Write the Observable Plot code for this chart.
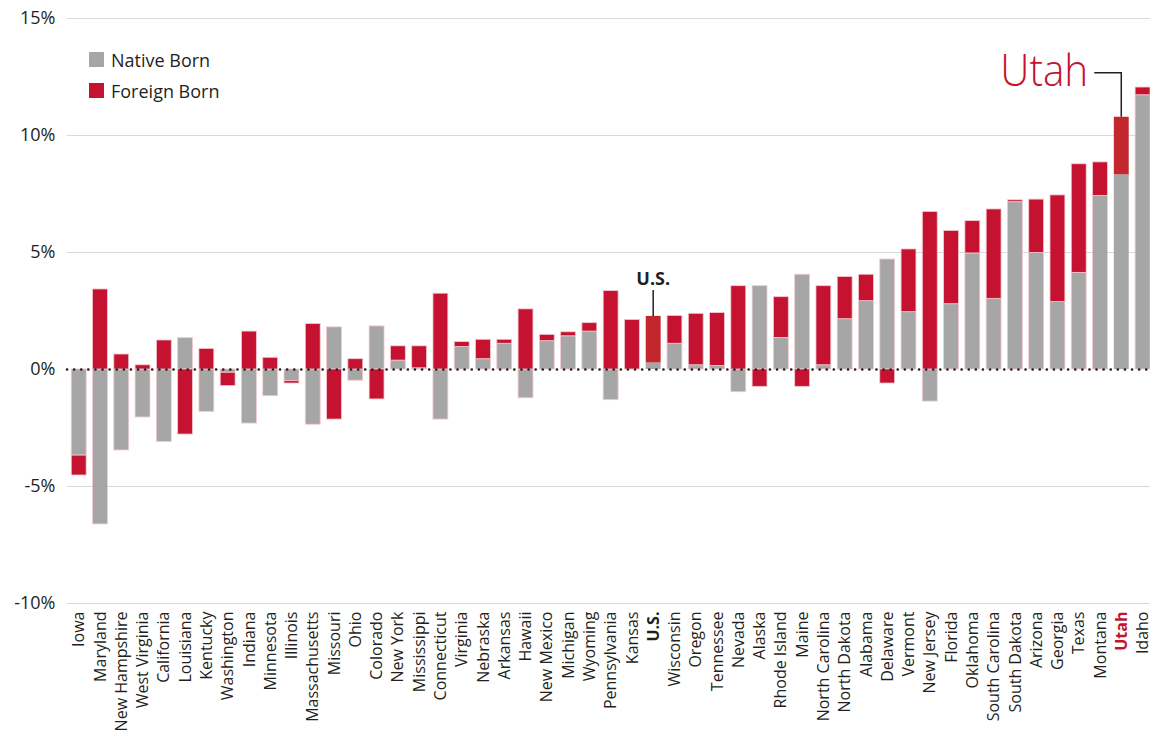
<!DOCTYPE html>
<html>
<head>
<meta charset="utf-8">
<script src="https://cdn.jsdelivr.net/npm/d3@7"></script>
<script src="https://cdn.jsdelivr.net/npm/@observablehq/plot@0.6"></script>
<style>
  html, body { margin: 0; padding: 0; background: #fff; overflow: hidden; }
  #wrap { position: relative; width: 1150px; height: 741px; font-family: "Open Sans", sans-serif; }
  #legend { position: absolute; left: 89px; top: 44px; font-size: 18px; color: #231f20; }
  #legend div { display: flex; align-items: center; height: 31px; }
  #legend span.sw { width: 15px; height: 15px; display: inline-block; margin-right: 7px; }
</style>
</head>
<body>
<div id="wrap">
  <div id="chart"></div>
  <div id="legend">
    <div><span class="sw" style="background:#a6a6a6"></span>Native Born</div>
    <div><span class="sw" style="background:#c41230"></span>Foreign Born</div>
  </div>
</div>
<script>
const states = ["Iowa","Maryland","New Hampshire","West Virginia","California","Louisiana","Kentucky","Washington","Indiana","Minnesota","Illinois","Massachusetts","Missouri","Ohio","Colorado","New York","Mississippi","Connecticut","Virginia","Nebraska","Arkansas","Hawaii","New Mexico","Michigan","Wyoming","Pennsylvania","Kansas","U.S.","Wisconsin","Oregon","Tennessee","Nevada","Alaska","Rhode Island","Maine","North Carolina","North Dakota","Alabama","Delaware","Vermont","New Jersey","Florida","Oklahoma","South Carolina","South Dakota","Arizona","Georgia","Texas","Montana","Utah","Idaho"];
const nativeBorn = [-3.68,-6.62,-3.46,-2.05,-3.10,1.34,-1.81,-0.14,-2.31,-1.14,-0.50,-2.36,1.80,-0.48,1.84,0.38,0.05,-2.14,0.96,0.44,1.10,-1.23,1.21,1.42,1.62,-1.31,0,0.28,1.10,0.18,0.15,-0.97,3.56,1.35,4.05,0.18,2.15,2.92,4.70,2.45,-1.37,2.79,4.96,3.02,7.15,4.98,2.88,4.13,7.42,8.32,11.72];
const foreignBorn = [-0.85,3.42,0.64,0.18,1.24,-2.78,0.88,-0.57,1.62,0.50,-0.10,1.94,-2.14,0.44,-1.28,0.61,0.94,3.24,0.21,0.83,0.17,2.57,0.27,0.17,0.36,3.35,2.12,1.99,1.19,2.20,2.26,3.56,-0.74,1.74,-0.74,3.38,1.80,1.13,-0.60,2.68,6.73,3.13,1.38,3.82,0.08,2.28,4.56,4.64,1.43,2.46,0.33];
const yTicks = [-10,-5,0,5,10,15];
const gridTicks = [-10,-5,5,10,15];
const highlighted = ["U.S.","Utah"];

const rows = [];
states.forEach((s,i) => {
  rows.push({state: s, group: "Native Born", value: nativeBorn[i]});
  rows.push({state: s, group: "Foreign Born", value: foreignBorn[i]});
});
const colorOf = d => d.group === "Native Born" ? "#a6a6a6" : (highlighted.includes(d.state) ? "#c1272d" : "#c41230");
const normalStates = states.filter(s => !highlighted.includes(s));

const chart = Plot.plot({
  width: 1150,
  height: 741,
  marginLeft: 67,
  marginRight: 0,
  marginTop: 18,
  marginBottom: 138,
  style: {fontFamily: "Open Sans, sans-serif", color: "#231f20", background: "#fff"},
  x: {domain: states, paddingInner: 0.3, paddingOuter: 0.1, align: 1, round: false, label: null},
  y: {domain: [-10, 15], label: null},
  marks: [
    Plot.gridY(gridTicks, {stroke: "#d9d9d9", strokeOpacity: 1, strokeWidth: 1.2}),
    Plot.axisY(yTicks, {tickSize: 0, tickPadding: 12, fontSize: 18, tickFormat: d => d + "%", label: null}),
    Plot.barY(rows, Plot.stackY({
      x: "state", y: "value", z: "group", order: null,
      fill: colorOf,
      stroke: d => highlighted.includes(d.state) ? "none" : "#f3c9cf",
      strokeWidth: 0.8
    })),
    Plot.ruleY([0], {stroke: "#231f20", strokeWidth: 2.6, strokeDasharray: "0.1,7", strokeLinecap: "round"}),
    Plot.axisX(normalStates, {tickSize: 0, tickPadding: 8, tickRotate: -90, fontSize: 16, label: null, textAnchor: "end"}),
    Plot.axisX(["U.S."], {tickSize: 0, tickPadding: 8, tickRotate: -90, fontSize: 16, fontWeight: "bold", label: null, textAnchor: "end"}),
    Plot.axisX(["Utah"], {tickSize: 0, tickPadding: 8, tickRotate: -90, fontSize: 16, fontWeight: "bold", fill: "#c41230", label: null, textAnchor: "end"})
  ]
});
document.getElementById("chart").appendChild(chart);

// Annotations positioned through the chart's own scales
const xs = chart.scale("x"), ys = chart.scale("y");
const bw = xs.bandwidth;
const svg = d3.select(chart);
const totalOf = s => { const i = states.indexOf(s); return nativeBorn[i] + foreignBorn[i]; };

// U.S.
const usX = xs.apply("U.S.") + bw / 2;
const usTop = ys.apply(totalOf("U.S."));
svg.append("line").attr("x1", usX).attr("x2", usX).attr("y1", usTop).attr("y2", usTop - 26)
  .attr("stroke", "#231f20").attr("stroke-width", 1.5);
svg.append("text").attr("x", usX).attr("y", usTop - 31).attr("text-anchor", "middle")
  .attr("font-size", 18).attr("font-weight", "bold").attr("fill", "#231f20")
  .attr("font-family", "Open Sans, sans-serif").text("U.S.");

// Utah
const utX = xs.apply("Utah") + bw / 2;
const utTop = ys.apply(totalOf("Utah"));
svg.append("path").attr("d", `M${utX},${utTop} V${utTop - 44} H${utX - 27}`)
  .attr("fill", "none").attr("stroke", "#231f20").attr("stroke-width", 1.5);
svg.append("text").attr("x", utX - 33).attr("y", utTop - 31).attr("text-anchor", "end")
  .attr("font-size", 44).attr("font-weight", 300).attr("fill", "#c41230")
  .attr("font-family", "Open Sans, sans-serif")
  .attr("textLength", 88).attr("lengthAdjust", "spacingAndGlyphs").text("Utah");
</script>
</body>
</html>
